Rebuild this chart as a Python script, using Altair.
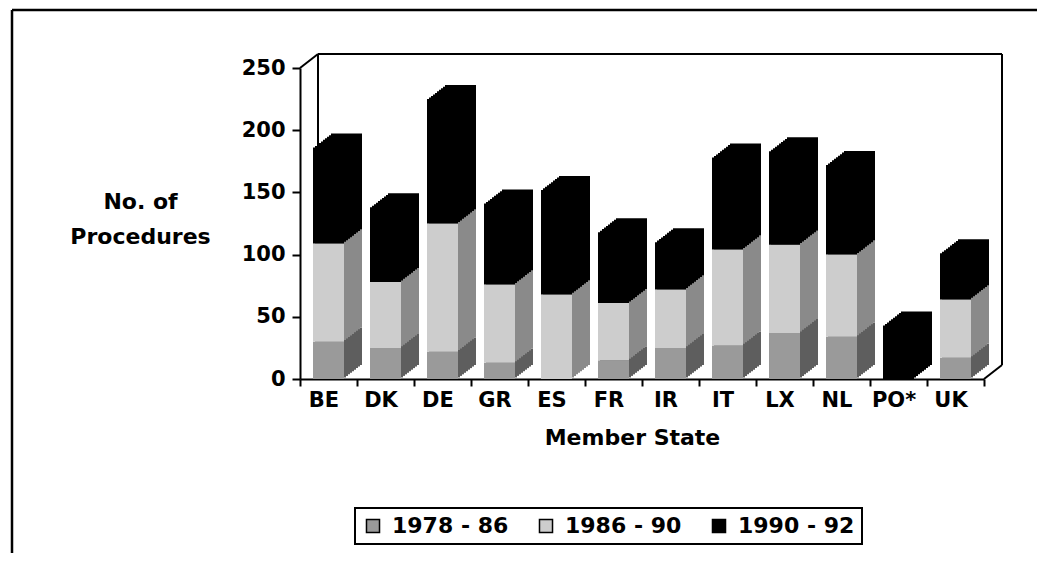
import altair as alt
import pandas as pd

states = ["BE", "DK", "DE", "GR", "ES", "FR", "IR", "IT", "LX", "NL", "PO*", "UK"]
periods = ["1978 - 86", "1986 - 90", "1990 - 92"]
p1978_86 = [30, 25, 22, 13, 0, 15, 25, 27, 37, 34, 0, 17]
p1986_90 = [79, 53, 103, 63, 68, 46, 47, 77, 71, 66, 0, 47]
p1990_92 = [77, 60, 100, 65, 84, 57, 38, 74, 75, 72, 43, 37]
y_ticks = [0, 50, 100, 150, 200, 250]

front_colors = ["#9a9a9a", "#cdcdcd", "#000000"]
side_colors = ["#5e5e5e", "#8a8a8a", "#000000"]

rows = []
for series_i, (per, vals) in enumerate(zip(periods, [p1978_86, p1986_90, p1990_92])):
    for st, v in zip(states, vals):
        rows.append({"state": st, "period": per, "value": v, "ord": series_i})
df = pd.DataFrame(rows)

W, H = 684, 311
DX, DY = 18, -14
STEPS = 9
FONT = "DejaVu Sans"

y_scale = alt.Scale(domain=[0, 250], nice=False)
x_scale = alt.Scale(paddingInner=0, paddingOuter=0)

one = alt.Data(values=[{}])


def line(x, y, x2, y2, w=2):
    return alt.Chart(one).mark_rule(color="black", strokeWidth=w).encode(
        x=alt.value(x), y=alt.value(y), x2=alt.value(x2), y2=alt.value(y2)
    )


frame = [
    line(-288, -58, 737, -58, 2.5),
    line(-288, -58, -288, 485, 2.5),
    line(DX, DY, W + DX, DY),
    line(W + DX, DY, W + DX, H + DY),
    line(DX, DY, DX, H + DY),
    line(0, 0, DX, DY),
    line(W, H, W + DX, H + DY),
]

x_axis = alt.Axis(
    title="Member State",
    labelAngle=0,
    tickBand="extent",
    tickSize=7,
    tickWidth=2,
    tickColor="black",
    domainColor="black",
    domainWidth=2,
    labelFont=FONT,
    labelFontWeight="bold",
    labelFontSize=21,
    labelColor="black",
    labelPadding=3,
    labelOffset=-5,
    titleFont=FONT,
    titleFontWeight="bold",
    titleFontSize=22,
    titleColor="black",
    titlePadding=17,
    titleX=332,
)

y_axis = alt.Axis(
    values=y_ticks,
    grid=False,
    title=["No. of", "Procedures"],
    titleAngle=0,
    titleAlign="center",
    titleBaseline="top",
    titleX=-160,
    titleY=123,
    titleLineHeight=35,
    titleFont=FONT,
    titleFontWeight="bold",
    titleFontSize=22,
    titleColor="black",
    tickSize=8,
    tickWidth=2,
    tickColor="black",
    domainColor="black",
    domainWidth=2,
    labelFont=FONT,
    labelFontWeight="bold",
    labelFontSize=21,
    labelColor="black",
    labelPadding=7,
)

depth_layers = []
for k in range(STEPS, 0, -1):
    ox = DX * k / STEPS
    oy = DY * k / STEPS
    depth_layers.append(
        alt.Chart(df).mark_bar(size=31, xOffset=ox, yOffset=oy, y2Offset=oy).encode(
            x=alt.X("state:N", sort=states, scale=x_scale, axis=x_axis),
            y=alt.Y("value:Q", stack="zero", scale=y_scale, axis=y_axis),
            color=alt.Color(
                "period:N", scale=alt.Scale(domain=periods, range=side_colors), legend=None
            ),
            order=alt.Order("ord:Q", sort="ascending"),
        )
    )

front = alt.Chart(df).mark_bar(size=31).encode(
    x=alt.X("state:N", sort=states, scale=x_scale, axis=x_axis),
    y=alt.Y("value:Q", stack="zero", scale=y_scale, axis=y_axis),
    color=alt.Color(
        "period:N",
        scale=alt.Scale(domain=periods, range=front_colors),
        legend=alt.Legend(
            title=None,
            orient="none",
            direction="horizontal",
            legendX=55,
            legendY=440,
            symbolType="square",
            symbolSize=170,
            symbolStrokeColor="black",
            symbolStrokeWidth=1.5,
            symbolOpacity=1,
            labelFont=FONT,
            labelFontWeight="bold",
            labelFontSize=22,
            labelColor="black",
            labelOffset=8,
            columnPadding=26,
            padding=7,
            strokeColor="black",
        ),
    ),
    order=alt.Order("ord:Q", sort="ascending"),
)

chart = (
    alt.layer(*frame, *depth_layers, front)
    .resolve_scale(color="independent")
    .properties(
        width=W,
        height=H,
        autosize=alt.AutoSizeParams(type="none"),
        padding={"left": 292, "top": 60, "right": 53, "bottom": 174},
        background="white",
    )
    .configure_view(stroke=None)
    .configure_legend(strokeWidth=2)
)

chart.save("out.html", embed_options={"renderer": "svg", "actions": False})
